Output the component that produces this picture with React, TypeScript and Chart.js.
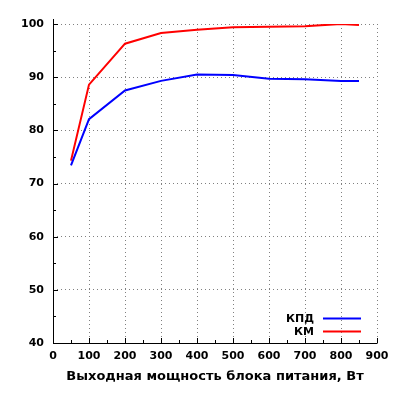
import { useEffect, useRef } from 'react';
import { Chart, registerables } from 'chart.js';

Chart.register(...registerables);

// Выходная мощность, Вт
const powerW = [50, 100, 200, 300, 400, 500, 600, 700, 800, 850];
// КПД, %
const efficiency = [73.4, 82.1, 87.5, 89.3, 90.5, 90.4, 89.7, 89.6, 89.3, 89.3];
// Коэффициент мощности, %
const powerFactor = [74.3, 88.6, 96.3, 98.3, 98.9, 99.4, 99.5, 99.6, 100, 99.8];

const seriesLabels = ['КПД', 'КМ'];
const seriesColors = ['#0000ff', '#ff0000'];

const xTitle = 'Выходная мощность блока питания, Вт';

// оси, мелкие засечки внутрь и легенда в стиле gnuplot
const axesPlugin = {
  id: 'gnuplotAxes',
  afterDatasetsDraw(chart: Chart) {
    const { ctx, chartArea } = chart;
    const xs = chart.scales.x;
    const ys = chart.scales.y;
    ctx.save();
    ctx.strokeStyle = '#000';
    ctx.lineWidth = 1;
    ctx.beginPath();
    ctx.moveTo(chartArea.left + 0.5, chartArea.top - 5);
    ctx.lineTo(chartArea.left + 0.5, chartArea.bottom + 0.5);
    ctx.lineTo(chartArea.right + 0.5, chartArea.bottom + 0.5);
    for (let v = 40; v <= 100; v += 5) {
      const y = Math.round(ys.getPixelForValue(v)) + 0.5;
      const len = v % 10 === 0 ? 5 : 3;
      ctx.moveTo(chartArea.left, y);
      ctx.lineTo(chartArea.left + len, y);
    }
    for (let v = 0; v <= 900; v += 50) {
      const x = Math.round(xs.getPixelForValue(v)) + 0.5;
      const len = v % 100 === 0 ? 5 : 3;
      ctx.moveTo(x, chartArea.bottom);
      ctx.lineTo(x, chartArea.bottom - len);
    }
    ctx.stroke();

    // легенда
    ctx.font = 'bold 11px "DejaVu Sans"';
    ctx.textAlign = 'right';
    ctx.textBaseline = 'middle';
    chart.data.datasets.forEach((ds, i) => {
      const y = 318.5 + i * 13;
      ctx.fillStyle = '#000';
      ctx.fillText(String(ds.label), 314, y + 1);
      ctx.strokeStyle = String(ds.borderColor);
      ctx.lineWidth = 2;
      ctx.beginPath();
      ctx.moveTo(323, y);
      ctx.lineTo(361, y);
      ctx.stroke();
    });
    ctx.restore();
  },
};

export default function App() {
  const canvasRef = useRef<HTMLCanvasElement>(null);
  const chartRef = useRef<Chart | null>(null);

  useEffect(() => {
    if (!canvasRef.current) return;
    if (chartRef.current) chartRef.current.destroy();

    Chart.defaults.font.family = '"DejaVu Sans", sans-serif';
    Chart.defaults.color = '#000';

    const makeData = (vals: number[]) => powerW.map((x, i) => ({ x, y: vals[i] }));

    chartRef.current = new Chart(canvasRef.current, {
      type: 'line',
      data: {
        datasets: [
          {
            label: seriesLabels[0],
            data: makeData(efficiency),
            borderColor: seriesColors[0],
            borderWidth: 2,
            pointRadius: 0,
            tension: 0,
          },
          {
            label: seriesLabels[1],
            data: makeData(powerFactor),
            borderColor: seriesColors[1],
            borderWidth: 2,
            pointRadius: 0,
            tension: 0,
          },
        ],
      },
      options: {
        animation: false,
        responsive: true,
        maintainAspectRatio: false,
        layout: { padding: { top: 24, right: 23, left: 0, bottom: 0 } },
        plugins: {
          legend: { display: false },
          tooltip: { enabled: false },
        },
        scales: {
          x: {
            type: 'linear',
            min: 0,
            max: 900,
            ticks: { stepSize: 100, padding: 7, font: { size: 11, weight: 'bold' } },
            grid: { color: '#808080', drawTicks: false, lineWidth: 1 },
            border: { display: false, dash: [1, 3] },
            title: {
              display: true,
              text: xTitle,
              font: { size: 13, weight: 'bold' },
              padding: { top: 4, bottom: 16 },
            },
            afterFit: (scale: any) => {
              scale.height = 57;
            },
          },
          y: {
            min: 40,
            max: 100,
            ticks: { stepSize: 10, padding: 9, font: { size: 11, weight: 'bold' } },
            grid: { color: '#808080', drawTicks: false, lineWidth: 1 },
            border: { display: false, dash: [1, 3] },
            afterFit: (scale: any) => {
              scale.width = 53;
            },
          },
        },
      },
      plugins: [axesPlugin],
    });

    return () => {
      if (chartRef.current) {
        chartRef.current.destroy();
        chartRef.current = null;
      }
    };
  }, []);

  return (
    <div style={{ position: 'fixed', left: 0, top: 0, width: '400px', height: '400px', background: '#fff' }}>
      <canvas ref={canvasRef} />
    </div>
  );
}
